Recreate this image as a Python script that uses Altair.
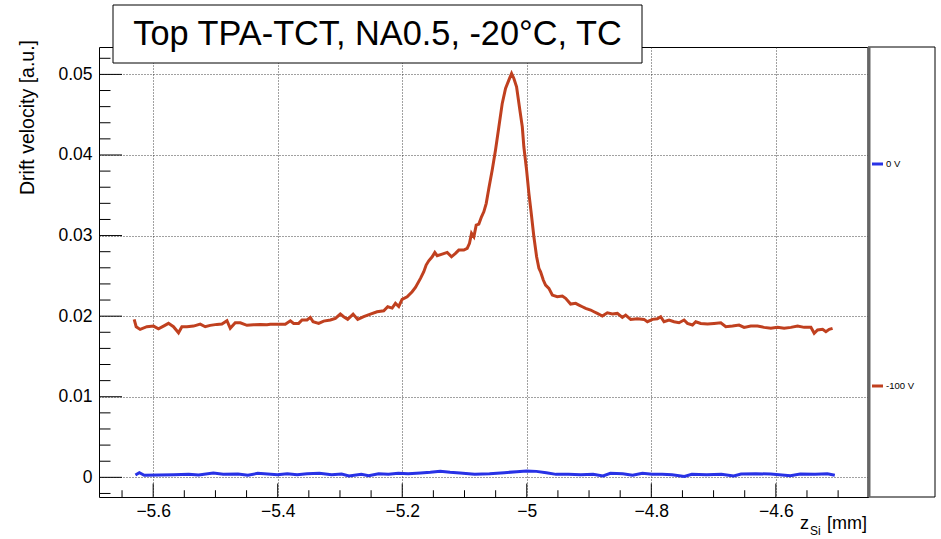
import altair as alt
import pandas as pd

# ---------------- data ----------------
series = ["0 V", "-100 V"]
colors = ["#2832e6", "#c0401f"]

red_z = [-5.6305, -5.6273, -5.6209, -5.6101, -5.5995, -5.5915, -5.5834, -5.5754, -5.5674, -5.5593,
         -5.5539, -5.5458, -5.5352, -5.5244, -5.5164, -5.5084, -5.4976, -5.4896, -5.4815, -5.4762,
         -5.4682, -5.4601, -5.4494, -5.4387, -5.4280, -5.4172,
         -5.4119, -5.3958, -5.3878, -5.3797, -5.3744, -5.3664, -5.3609, -5.3529, -5.3476, -5.3432,
         -5.3342, -5.3262, -5.3154, -5.3074, -5.2994, -5.2941, -5.2876, -5.2789, -5.2715, -5.2619,
         -5.2511, -5.2404, -5.2297, -5.2233, -5.2162,
         -5.2109, -5.2056, -5.2002, -5.1921, -5.1841, -5.1788, -5.1707, -5.1654, -5.1616, -5.1574,
         -5.1519, -5.1477, -5.1439, -5.1359, -5.1278, -5.1209, -5.1145, -5.1092, -5.1011, -5.0957,
         -5.0920, -5.0887, -5.0850, -5.0812, -5.0770, -5.0727, -5.0690, -5.0651,
         -5.0609, -5.0555, -5.0502, -5.0448, -5.0394, -5.0341, -5.0288, -5.0244, -5.0207, -5.0164,
         -5.0111, -5.0072, -5.0047, -5.0003, -4.9966, -4.9928, -4.9886, -4.9842, -4.9805,
         -4.9778, -4.9735, -4.9698, -4.9645, -4.9590, -4.9510, -4.9429, -4.9376, -4.9296, -4.9215,
         -4.9162, -4.9108, -4.9055, -4.8974, -4.8921, -4.8867, -4.8786, -4.8706, -4.8626, -4.8545,
         -4.8465, -4.8412, -4.8331, -4.8224, -4.8117, -4.8063, -4.7982, -4.7902, -4.7849, -4.7796,
         -4.7715, -4.7635, -4.7555, -4.7474, -4.7420, -4.7339, -4.7286, -4.7206,
         -4.7098, -4.6992, -4.6884, -4.6804, -4.6696, -4.6590, -4.6510, -4.6402, -4.6294, -4.6188,
         -4.6080, -4.5973, -4.5867, -4.5759, -4.5651, -4.5545, -4.5437, -4.5384, -4.5330, -4.5249,
         -4.5196, -4.5143, -4.5089]
red_v = [0.0196, 0.01869, 0.01836, 0.01869, 0.01877, 0.01844, 0.01877, 0.01911, 0.01869, 0.01794,
         0.01869, 0.01869, 0.01877, 0.01902, 0.01869, 0.01886, 0.01898, 0.01902, 0.01943, 0.01849,
         0.01918, 0.01918, 0.01886, 0.01893, 0.01898, 0.01893,
         0.0190, 0.0190, 0.0190, 0.01943, 0.0191, 0.0191, 0.01952, 0.01952, 0.01985, 0.0193,
         0.0191, 0.01939, 0.01952, 0.01972, 0.02026, 0.01993, 0.0196, 0.02026, 0.0196, 0.01993,
         0.02026, 0.02055, 0.02067, 0.02117, 0.0210,
         0.02159, 0.0212, 0.02208, 0.0224, 0.02303, 0.02357, 0.02469, 0.02551, 0.02634, 0.02687,
         0.02737, 0.02791, 0.0275, 0.0277, 0.02791, 0.02737, 0.02779, 0.0282, 0.0282, 0.02841,
         0.02903, 0.03027, 0.02985, 0.0313, 0.03143, 0.03233, 0.03295, 0.034,
         0.03586, 0.03813, 0.04061, 0.0435, 0.0464, 0.04826, 0.04929, 0.05012, 0.0495, 0.04846,
         0.04557, 0.0435, 0.04102, 0.03813, 0.03524, 0.03275, 0.02985, 0.02737, 0.02593,
         0.0255, 0.02448, 0.02386, 0.02345, 0.02262, 0.02241, 0.02249, 0.02221, 0.0215, 0.02159,
         0.02138, 0.02117, 0.02097, 0.02076, 0.02055, 0.02034, 0.02001, 0.02042, 0.02026, 0.02034,
         0.01985, 0.02013, 0.0196, 0.01968, 0.0196, 0.01931, 0.0196, 0.01968, 0.01993, 0.01931,
         0.01952, 0.01931, 0.01918, 0.01952, 0.0191, 0.0189, 0.01931, 0.0191,
         0.01902, 0.0191, 0.01918, 0.01869, 0.01877, 0.0189, 0.01861, 0.01877, 0.01877, 0.01861,
         0.01849, 0.01861, 0.01849, 0.01861, 0.01877, 0.01861, 0.01861, 0.01787, 0.01828, 0.01836,
         0.01807, 0.01836, 0.01849]

blue_z = [-5.6285, -5.6222, -5.6143, -5.5905, -5.5667, -5.5430, -5.5271, -5.5034, -5.4875, -5.4638,
          -5.4479, -5.4321, -5.4004, -5.3846, -5.3687, -5.3529, -5.3331, -5.3133, -5.2974, -5.2855,
          -5.2657, -5.2539, -5.2380, -5.2222, -5.2063, -5.1905, -5.1707, -5.1549, -5.1390, -5.1232,
          -5.1073, -5.0836, -5.0598, -5.0360, -5.0162, -5.0004, -4.9846, -4.9687, -4.9529, -4.9331,
          -4.9133, -4.8935, -4.8776, -4.8657, -4.8459, -4.8301, -4.8143, -4.7984, -4.7826, -4.7667,
          -4.7469, -4.7350, -4.7113, -4.6875, -4.6677, -4.6558, -4.6321, -4.6083, -4.5766, -4.5608,
          -4.5370, -4.5172, -4.5053]
blue_v = [0.00029, 0.00058, 0.00025, 0.00029, 0.00033, 0.00037, 0.00029, 0.00054, 0.00037, 0.00041,
          0.00025, 0.0005, 0.00033, 0.00045, 0.00033, 0.00045, 0.0005, 0.00033, 0.00041, 0.00017,
          0.00037, 0.00021, 0.00045, 0.00037, 0.0005, 0.00045, 0.00054, 0.00062, 0.00074, 0.00062,
          0.00054, 0.00037, 0.00045, 0.00058, 0.0007, 0.00079, 0.00074, 0.00058, 0.00037, 0.00037,
          0.00033, 0.00037, 0.00017, 0.0005, 0.00045, 0.00025, 0.0005, 0.00037, 0.00037, 0.00033,
          0.00012, 0.00037, 0.00033, 0.00037, 0.00017, 0.00041, 0.00045, 0.00041, 0.00021, 0.00041,
          0.00037, 0.00045, 0.00025]

x_major = [-5.6, -5.4, -5.2, -5.0, -4.8, -4.6]
x_minor = [-5.65, -5.55, -5.5, -5.45, -5.35, -5.3, -5.25, -5.15, -5.1, -5.05,
           -4.95, -4.9, -4.85, -4.75, -4.7, -4.65, -4.55, -4.5]
y_major = [0, 0.01, 0.02, 0.03, 0.04, 0.05]
y_minor = [-0.002, 0.002, 0.004, 0.006, 0.008, 0.012, 0.014, 0.016, 0.018, 0.022, 0.024,
           0.026, 0.028, 0.032, 0.034, 0.036, 0.038, 0.042, 0.044, 0.046, 0.048, 0.052]

title_text = "Top TPA-TCT, NA0.5, -20°C, TC"
y_title = "Drift velocity [a.u.]"

assert len(red_z) == len(red_v)
assert len(blue_z) == len(blue_v)

FONT = "Liberation Sans"
W, H = 769, 450
LW = 67  # legend panel width

df = pd.concat([
    pd.DataFrame({"series": series[0], "z": blue_z, "v": blue_v}),
    pd.DataFrame({"series": series[1], "z": red_z, "v": red_v}),
])

xscale = alt.Scale(domain=[-5.687, -4.452], nice=False, zero=False)
yscale = alt.Scale(domain=[-0.00244, 0.0534], nice=False, zero=False)
cscale = alt.Scale(domain=series, range=colors)

xaxis = alt.Axis(values=x_major, format=".1~f", grid=True, ticks=False, domain=False, title=None,
                 labelFontSize=17.5, labelPadding=5, labelFont=FONT, labelColor="black",
                 gridDash=[1, 2], gridColor="#222", gridOpacity=0.85)
yaxis = alt.Axis(values=y_major, format=".2~f", grid=True, ticks=False, domain=False, title=None,
                 labelFontSize=17.5, labelPadding=7, labelFont=FONT, labelColor="black",
                 gridDash=[1, 2], gridColor="#222", gridOpacity=0.85)

lines = alt.Chart(df).mark_line(strokeWidth=3).encode(
    x=alt.X("z:Q", scale=xscale, axis=xaxis),
    y=alt.Y("v:Q", scale=yscale, axis=yaxis),
    color=alt.Color("series:N", scale=cscale, legend=None),
    detail="series:N",
)

xt_major = alt.Chart(pd.DataFrame({"z": x_major})).mark_rule(color="black").encode(
    x=alt.X("z:Q", scale=xscale, axis=xaxis), y=alt.value(H), y2=alt.value(H - 13.5))
xt_minor = alt.Chart(pd.DataFrame({"z": x_minor})).mark_rule(color="black").encode(
    x=alt.X("z:Q", scale=xscale, axis=xaxis), y=alt.value(H), y2=alt.value(H - 6.75))
yt_major = alt.Chart(pd.DataFrame({"v": y_major})).mark_rule(color="black").encode(
    y=alt.Y("v:Q", scale=yscale, axis=yaxis), x=alt.value(0), x2=alt.value(23))
yt_minor = alt.Chart(pd.DataFrame({"v": y_minor})).mark_rule(color="black").encode(
    y=alt.Y("v:Q", scale=yscale, axis=yaxis), x=alt.value(0), x2=alt.value(11.5))

tdf = pd.DataFrame({"t": [title_text]})
title_box = alt.Chart(tdf).mark_rect(fill="white", stroke="black", strokeWidth=1).encode(
    x=alt.value(14), x2=alt.value(543), y=alt.value(-42), y2=alt.value(16))
title_txt = alt.Chart(tdf).mark_text(fontSize=34.3, font=FONT, color="black",
                                     align="center", baseline="middle").encode(
    text="t:N", x=alt.value(278.5), y=alt.value(-12))

ytdf = pd.DataFrame({"t": [y_title]})
ytitle = alt.Chart(ytdf).mark_text(fontSize=19.5, font=FONT, color="black", angle=270,
                                   align="right", baseline="middle").encode(
    text="t:N", x=alt.value(-71), y=alt.value(-7))

xtdf = pd.DataFrame({"a": ["z"], "b": ["Si"], "c": ["[mm]"]})
xt_z = alt.Chart(xtdf).mark_text(fontSize=18, font=FONT, color="black", align="left",
                                 baseline="alphabetic").encode(
    text="a:N", x=alt.value(701), y=alt.value(482))
xt_si = alt.Chart(xtdf).mark_text(fontSize=12, font=FONT, color="black", align="left",
                                  baseline="alphabetic").encode(
    text="b:N", x=alt.value(711), y=alt.value(488))
xt_mm = alt.Chart(xtdf).mark_text(fontSize=18, font=FONT, color="black", align="right",
                                  baseline="alphabetic").encode(
    text="c:N", x=alt.value(768), y=alt.value(482))

main = alt.layer(lines, xt_major, xt_minor, yt_major, yt_minor,
                 title_box, title_txt, ytitle, xt_z, xt_si, xt_mm)

# legend panel, drawn to the right of the plot frame
one = pd.DataFrame({"a": [0]})
leg_box = alt.Chart(one).mark_rect(fill="white", stroke="black", strokeWidth=1).encode(
    x=alt.value(W), x2=alt.value(W + LW), y=alt.value(0), y2=alt.value(H))
divider = alt.Chart(one).mark_rule(color="#666", strokeWidth=3).encode(
    x=alt.value(W + 1), y=alt.value(0), y2=alt.value(H))
leg_df = pd.DataFrame({"series": series})
leg_y = alt.Y("series:N", scale=alt.Scale(type="point", domain=series, range=[117, 339],
                                          padding=0), axis=None)
leg_line = alt.Chart(leg_df).mark_rule(strokeWidth=3).encode(
    y=leg_y, x=alt.value(W + 4), x2=alt.value(W + 15),
    color=alt.Color("series:N", scale=cscale, legend=None))
leg_text = alt.Chart(leg_df).mark_text(align="left", baseline="middle", fontSize=9.5,
                                       font=FONT, color="black").encode(
    y=leg_y, x=alt.value(W + 18), text="series:N")
legend = alt.layer(leg_box, divider, leg_line, leg_text)

chart = alt.layer(main, legend).resolve_scale(y="independent").properties(
    width=W, height=H,
    padding={"left": 99, "top": 47, "right": 73, "bottom": 42},
    autosize=alt.AutoSizeParams(type="none"),
    background="white",
).configure_view(stroke="black", strokeWidth=1)

chart.save("out.html", embed_options={"renderer": "svg", "actions": False})
